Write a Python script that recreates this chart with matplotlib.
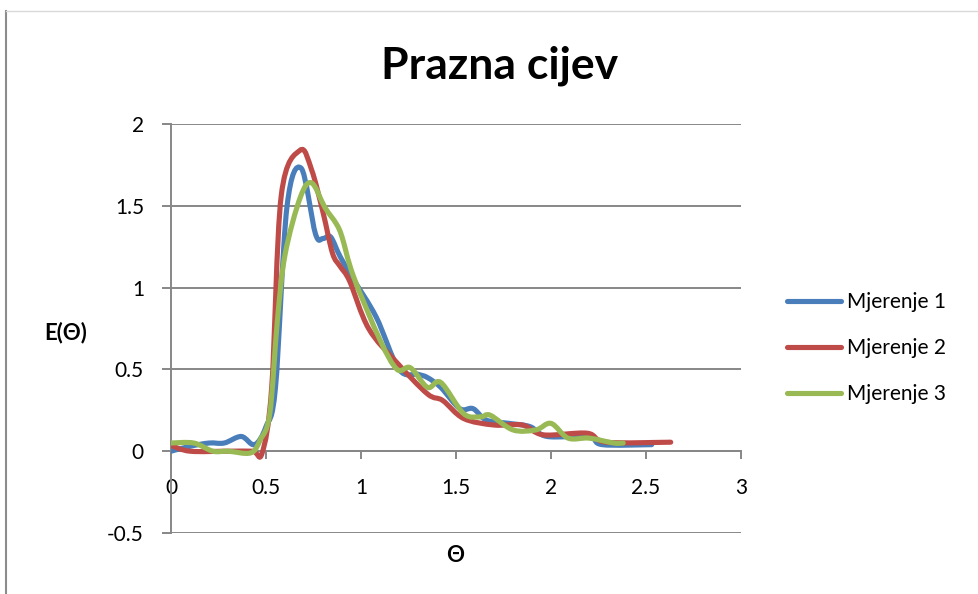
import numpy as np
import matplotlib
matplotlib.use('Agg')
import matplotlib.pyplot as plt
from matplotlib.path import Path
from matplotlib.patches import PathPatch
from matplotlib.lines import Line2D

# ---- data ----
theta1 = [0, 0.1, 0.2, 0.28, 0.37, 0.44, 0.5, 0.55, 0.61, 0.685, 0.76, 0.8, 0.84, 0.89, 0.96,
          1.08, 1.2, 1.3, 1.35, 1.42, 1.52, 1.59, 1.66, 1.78, 1.89, 1.98, 2.2, 2.27, 2.53]
e1 = [0, 0.03, 0.05, 0.05, 0.09, 0.04, 0.15, 0.39, 1.49, 1.73, 1.33, 1.30, 1.31, 1.19, 1.05,
      0.82, 0.5, 0.47, 0.45, 0.39, 0.26, 0.26, 0.19, 0.17, 0.15, 0.09, 0.09, 0.04, 0.04]

theta2 = [0, 0.1, 0.3, 0.43, 0.48, 0.53, 0.58, 0.68, 0.74, 0.8, 0.85, 0.89, 0.94, 1.04,
          1.19, 1.35, 1.43, 1.54, 1.7, 1.85, 1.96, 2.19, 2.29, 2.63]
e2 = [0.035, 0.0, 0.0, 0.0, -0.01, 0.39, 1.56, 1.84, 1.72, 1.46, 1.21, 1.13, 1.04, 0.75,
      0.54, 0.35, 0.31, 0.2, 0.16, 0.16, 0.1, 0.11, 0.055, 0.055]

theta3 = [0, 0.12, 0.22, 0.3, 0.42, 0.47, 0.52, 0.56, 0.6, 0.68, 0.74, 0.81, 0.87, 0.9, 0.96,
          1.1, 1.19, 1.26, 1.35, 1.42, 1.54, 1.63, 1.68, 1.8, 1.92, 2.0, 2.09, 2.2, 2.33, 2.38]
e3 = [0.05, 0.05, 0.0, 0.0, -0.01, 0.07, 0.23, 0.8, 1.2, 1.55, 1.64, 1.49, 1.39, 1.31, 1.07,
      0.68, 0.5, 0.51, 0.39, 0.42, 0.23, 0.21, 0.22, 0.13, 0.13, 0.17, 0.08, 0.08, 0.05, 0.05]

series_names = ['Mjerenje 1', 'Mjerenje 2', 'Mjerenje 3']
colors = ['#4A7EBB', '#BE4B48', '#98B954']
xticks = [0, 0.5, 1, 1.5, 2, 2.5, 3]
xtick_labels = ['0', '0.5', '1', '1.5', '2', '2.5', '3']
yticks = [-0.5, 0, 0.5, 1, 1.5, 2]
ytick_labels = ['-0.5', '0', '0.5', '1', '1.5', '2']
title = 'Prazna cijev'
xlabel = 'Θ'
ylabel = 'E(Θ)'

FONT = ['Lato', 'DejaVu Sans']
plt.rcParams['font.family'] = FONT


def smooth_path(x, y):
    """Excel-like smoothed line: cubic Bezier segments through the data points."""
    p = np.column_stack([x, y]).astype(float)
    n = len(p)
    verts = [p[0]]
    codes = [Path.MOVETO]
    for i in range(n - 1):
        p0 = p[i - 1] if i > 0 else p[i]
        p1 = p[i]
        p2 = p[i + 1]
        p3 = p[i + 2] if i + 2 < n else p[i + 1]
        c1 = p1 + (p2 - p0) / 6.0
        c2 = p2 - (p3 - p1) / 6.0
        verts += [c1, c2, p2]
        codes += [Path.CURVE4] * 3
    return Path(verts, codes)


W, H = 979, 594
fig = plt.figure(figsize=(W / 100, H / 100), dpi=100)
L, R, T, B = 171, 741, 124, 533
ax = fig.add_axes([L / W, 1 - B / H, (R - L) / W, (B - T) / H])

gray = '#878787'
lw_line = 3.7

for xs, ys, c in zip([theta1, theta2, theta3], [e1, e2, e3], colors):
    patch = PathPatch(smooth_path(xs, ys), facecolor='none', edgecolor=c,
                      lw=lw_line, capstyle='round', joinstyle='round', zorder=3)
    ax.add_patch(patch)

ax.set_xlim(0, 3)
ax.set_ylim(-0.5, 2)
ax.set_xticks(xticks)
ax.set_xticklabels(xtick_labels)
ax.set_yticks(yticks)
ax.set_yticklabels(ytick_labels)

ax.yaxis.grid(True, color=gray, lw=1.4)
ax.set_axisbelow(True)
for s in ['top', 'right']:
    ax.spines[s].set_visible(False)
ax.spines['bottom'].set_position(('data', 0))
ax.spines['bottom'].set_color(gray)
ax.spines['bottom'].set_linewidth(1.4)
ax.spines['left'].set_color(gray)
ax.spines['left'].set_linewidth(1.4)
ax.tick_params(axis='y', length=6.5, width=1.4, color=gray, pad=13, labelsize=15)
ax.tick_params(axis='x', length=6, width=1.4, color=gray, pad=13, labelsize=15)

fig.text(500 / W, 1 - 66 / H, title, ha='center', va='center',
         fontsize=32, fontweight='bold', family=FONT)
fig.text(455 / W, 1 - 556 / H, xlabel, ha='center', va='center',
         fontsize=16, fontweight='bold', family=FONT)
fig.text(66 / W, 1 - 333 / H, ylabel, ha='center', va='center',
         fontsize=16, fontweight='bold', family=FONT)

handles = [Line2D([], [], color=c, lw=lw_line, solid_capstyle='round') for c in colors]
fig.legend(handles, series_names, loc='center left',
           bbox_to_anchor=(787 / W, 1 - 348 / H), frameon=False,
           borderpad=0, borderaxespad=0, handlelength=2.6, handletextpad=0.3,
           labelspacing=1.25, fontsize=15)

# chart frame (left and top border of the chart area)
fig.add_artist(Line2D([6 / W, 6 / W], [0, 1 - 11 / H], transform=fig.transFigure,
                      color='#8c8c8c', lw=1.5))
fig.add_artist(Line2D([6 / W, 1], [1 - 11 / H, 1 - 11 / H], transform=fig.transFigure,
                      color='#d9d9d9', lw=1.0))

fig.savefig('out.png', dpi=100)
